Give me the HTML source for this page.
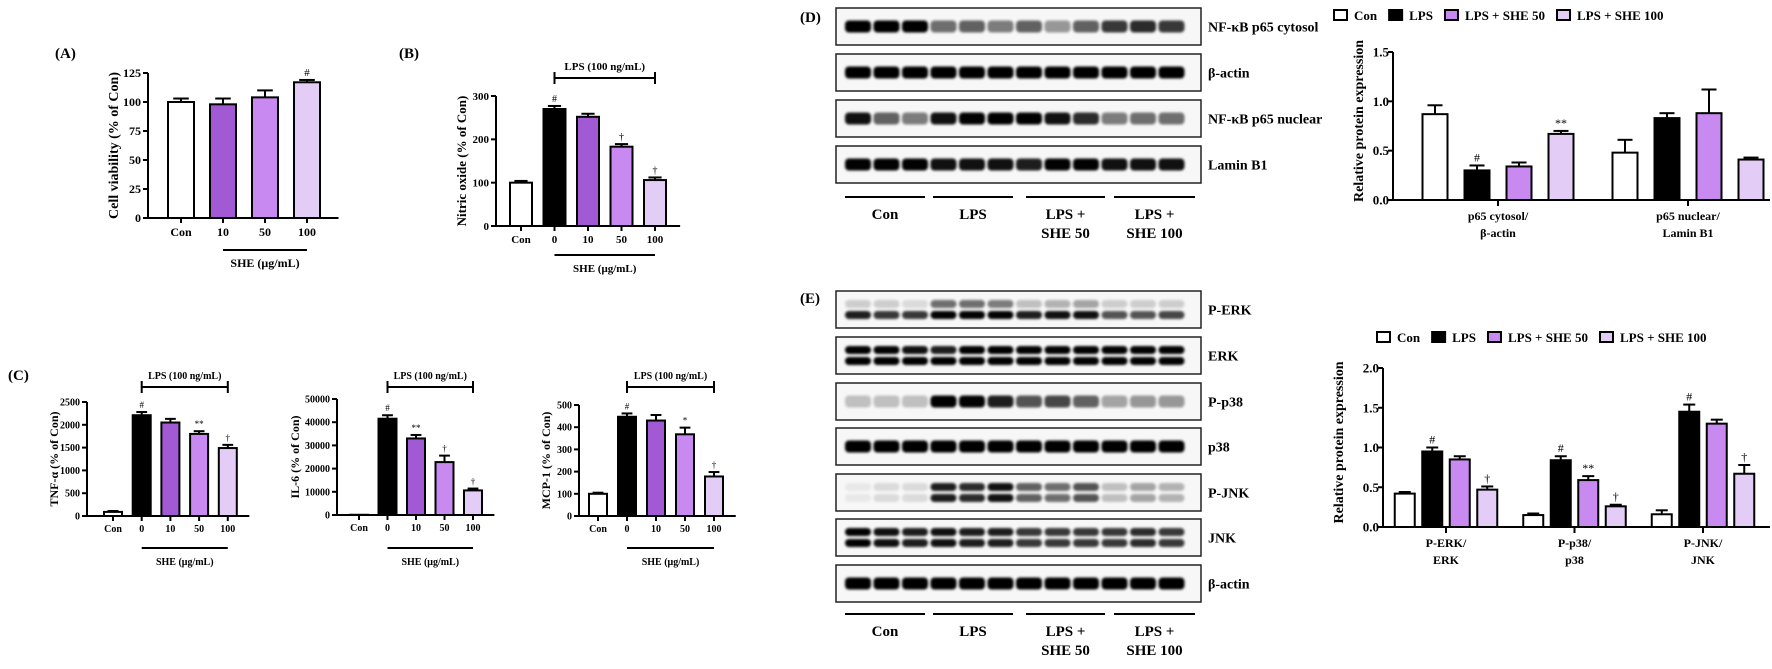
<!DOCTYPE html>
<html><head><meta charset="utf-8"><style>
html,body{margin:0;padding:0;background:#fff;}
svg{display:block;font-family:"Liberation Serif",serif;font-weight:bold;}
</style></head><body>
<svg id="fig" width="1772" height="669" viewBox="0 0 1772 669" xmlns="http://www.w3.org/2000/svg">
<defs><filter id="blur" x="-20%" y="-50%" width="140%" height="200%"><feGaussianBlur stdDeviation="1.3"/></filter></defs>
</svg>
<script>
// ---------- DATA ----------
const catsA = ['Con','10','50','100'];
const valsA = [100, 98, 104, 117];
const errA = [3, 5, 6, 2];
const sigA = ['', '', '', '#'];
const ticksA = [0,25,50,75,100,125];

const catsB = ['Con','0','10','50','100'];
const valsB = [100, 270, 252, 183, 106];
const errB = [4, 7, 7, 6, 6];
const sigB = ['', '#', '', '†', '†'];
const ticksB = [0,100,200,300];

const catsC = ['Con','0','10','50','100'];
const valsTNF = [90, 2210, 2050, 1800, 1490];
const errTNF = [20, 70, 80, 60, 70];
const sigTNF = ['', '#', '', '**', '†'];
const ticksTNF = [0,500,1000,1500,2000,2500];
const valsIL6 = [100, 41500, 33000, 22800, 10600];
const errIL6 = [0, 1500, 1500, 2800, 800];
const sigIL6 = ['', '#', '**', '†', '†'];
const ticksIL6 = [0,10000,20000,30000,40000,50000];
const valsMCP = [100, 447, 430, 368, 178];
const errMCP = [5, 15, 25, 30, 20];
const sigMCP = ['', '#', '', '*', '†'];
const ticksMCP = [0,100,200,300,400,500];

const legendNames = ['Con','LPS','LPS + SHE 50','LPS + SHE 100'];
const groupsD = [['p65 cytosol/','β-actin'],['p65 nuclear/','Lamin B1']];
const valsD = [[0.87,0.30,0.34,0.67],[0.48,0.83,0.88,0.41]];
const errD = [[0.09,0.05,0.04,0.03],[0.13,0.05,0.24,0.02]];
const sigD = [['','#','','**'],['','','','']];
const ticksD = [0,0.5,1.0,1.5];

const groupsE = [['P-ERK/','ERK'],['P-p38/','p38'],['P-JNK/','JNK']];
const valsE = [[0.42,0.95,0.85,0.47],[0.15,0.84,0.59,0.26],[0.16,1.45,1.30,0.67]];
const errE = [[0.02,0.05,0.04,0.04],[0.02,0.05,0.05,0.02],[0.05,0.09,0.05,0.11]];
const sigE = [['','#','','†'],['','#','**','†'],['','#','','†']];
const ticksE = [0,0.5,1.0,1.5,2.0];

// blot intensities (12 lanes)
const blotD = [
  {name:'NF-κB p65 cytosol', rows:[[1,1,.95,.5,.55,.45,.55,.35,.55,.7,.75,.7]]},
  {name:'β-actin', rows:[[.95,.95,.95,.95,.95,.95,.95,.95,.95,.92,.92,.92]]},
  {name:'NF-κB p65 nuclear', rows:[[.85,.55,.45,.85,.9,1,1,.85,.75,.45,.5,.5]]},
  {name:'Lamin B1', rows:[[.9,.9,.9,.85,.85,.85,.8,.9,.9,.85,.85,.85]]}
];
const blotE = [
  {name:'P-ERK', rows:[[.15,.15,.1,.5,.5,.45,.2,.25,.3,.15,.15,.15],[.8,.7,.7,.9,.9,.9,.8,.85,.85,.6,.6,.65]]},
  {name:'ERK', rows:[[.95,.9,.85,.8,.95,.95,.9,.9,.9,.9,.9,.9],[.95,.95,.95,.95,.95,.95,.9,.9,.9,.9,.9,.9]]},
  {name:'P-p38', rows:[[.2,.2,.2,.95,.9,.8,.6,.65,.55,.3,.35,.35]]},
  {name:'p38', rows:[[.95,.95,.95,.95,.95,.95,.95,.95,.95,.92,.92,.92]]},
  {name:'P-JNK', rows:[[.05,.1,.1,.8,.75,.85,.55,.5,.6,.2,.3,.25],[.05,.1,.1,.8,.75,.85,.55,.5,.6,.2,.3,.25]]},
  {name:'JNK', rows:[[.9,.85,.8,.85,.8,.8,.7,.7,.7,.7,.75,.7],[.9,.85,.8,.85,.8,.8,.7,.7,.7,.7,.75,.7]]},
  {name:'β-actin', rows:[[.95,.95,.95,.95,.95,.95,.95,.95,.95,.92,.92,.92]]}
];
const blotGroups = [['Con'],['LPS'],['LPS +','SHE 50'],['LPS +','SHE 100']];

// ---------- HELPERS ----------
const NS='http://www.w3.org/2000/svg';
const svg=document.getElementById('fig');
function mk(tag, attrs, parent){const e=document.createElementNS(NS,tag);for(const k in attrs)e.setAttribute(k,attrs[k]);(parent||svg).appendChild(e);return e;}
function txt(x,y,s,size,anchor,parent,extra){const t=mk('text',Object.assign({x:x,y:y,'font-size':size,'text-anchor':anchor||'middle'},extra||{}),parent);t.textContent=s;return t;}
const COL_A=['#ffffff','#a259d4','#c88af0','#e3cdf6'];
const COL5=['#ffffff','#000000','#a259d4','#c88af0','#e3cdf6'];
const COL4=['#ffffff','#000000','#c88af0','#e3cdf6'];

function yScale(y0,yTop,max){return v=>y0-(v/max)*(y0-yTop);}

function axisY(g,ax,y,ticks,fs,fmt,off){
  off=off||7;
  mk('line',{x1:ax,y1:y(ticks[0]),x2:ax,y2:y(ticks[ticks.length-1]),stroke:'#000','stroke-width':2},g);
  ticks.forEach(t=>{
    mk('line',{x1:ax-5,y1:y(t),x2:ax,y2:y(t),stroke:'#000','stroke-width':2},g);
    const l=txt(ax-off,y(t)+fs*0.35,fmt?fmt(t):String(t),fs,'end',g);
    
    
  });
}
function bar(g,cx,w,y,y0,v,e,col,sig,fs){
  const r=mk('rect',{x:cx-w/2,y:y(v),width:w,height:y0-y(v),fill:col,stroke:'#000','stroke-width':2},g);
  
  
  if(e>0){
    mk('line',{x1:cx,y1:y(v),x2:cx,y2:y(v+e),stroke:'#000','stroke-width':2},g);
    mk('line',{x1:cx-w*0.3,y1:y(v+e),x2:cx+w*0.3,y2:y(v+e),stroke:'#000','stroke-width':2},g);
  }
  if(sig){const s=txt(cx,y(v+e)-4,sig,fs,'middle',g,{'font-weight':'normal'});
    
    }
}
function ytitle(g,x,y,s,fs){const t=txt(0,0,s,fs,'middle',g,{transform:`translate(${x},${y}) rotate(-90)`});
  
  }

function simpleChart(o){
  const g=mk('g',{});
  
  
  const max=o.ticks[o.ticks.length-1];
  const y=yScale(o.y0,o.yTop,max);
  axisY(g,o.ax,y,o.ticks,o.fs);
  const n=o.cats.length;
  const xEnd=o.x0+(n-1)*o.step+o.step*0.75;
  mk('line',{x1:o.ax,y1:o.y0,x2:xEnd,y2:o.y0,stroke:'#000','stroke-width':2},g);
  o.cats.forEach((c,i)=>{
    const cx=o.x0+i*o.step;
    bar(g,cx,o.bw,y,o.y0,o.vals[i],o.errs[i],o.cols[i],o.sig[i],o.fs-1);
    mk('line',{x1:cx,y1:o.y0,x2:cx,y2:o.y0+5,stroke:'#000','stroke-width':2},g);
    const l=txt(cx,o.y0+o.fs+6,c,o.fs,'middle',g);
    
    
  });
  const s1=o.x0+o.step*(o.cats[0]==='Con'?1:0), s2=o.x0+(n-1)*o.step;
  mk('line',{x1:s1,y1:o.sheY,x2:s2,y2:o.sheY,stroke:'#000','stroke-width':2},g);
  const st=txt((s1+s2)/2,o.sheY+17,'SHE (μg/mL)',o.fs,'middle',g);
  
  
  if(o.lpsY){
    const b1=o.x0+o.step, b2=o.x0+(n-1)*o.step;
    mk('line',{x1:b1,y1:o.lpsY,x2:b2,y2:o.lpsY,stroke:'#000','stroke-width':2},g);
    mk('line',{x1:b1,y1:o.lpsY-6,x2:b1,y2:o.lpsY+6,stroke:'#000','stroke-width':2},g);
    mk('line',{x1:b2,y1:o.lpsY-6,x2:b2,y2:o.lpsY+6,stroke:'#000','stroke-width':2},g);
    const lt=txt((b1+b2)/2,o.lpsY-8,'LPS (100 ng/mL)',o.fs,'middle',g);
    
    
  }
  ytitle(g,o.tx,(o.y0+o.yTop)/2,o.title,o.tfs);
}

function groupedChart(o){
  const g=mk('g',{});
  
  
  const max=o.ticks[o.ticks.length-1];
  const y=yScale(o.y0,o.yTop,max);
  axisY(g,o.ax,y,o.ticks,o.tkfs,t=>t.toFixed(1),4);
  mk('line',{x1:o.ax,y1:o.y0,x2:o.xEnd,y2:o.y0,stroke:'#000','stroke-width':2},g);
  o.groups.forEach((gr,gi)=>{
    const gc=o.gc0+gi*o.gstep;
    mk('line',{x1:gc,y1:o.y0,x2:gc,y2:o.y0+6,stroke:'#000','stroke-width':2},g);
    gr.forEach((line,li)=>{const l=txt(gc,o.y0+o.fs+8+li*17,line,o.fs,'middle',g);
      
      });
    o.vals[gi].forEach((v,i)=>{
      bar(g,gc+(i-1.5)*o.step,o.bw,y,o.y0,v,o.errs[gi][i],COL4[i],o.sig[gi][i],o.fs);
    });
  });
  // legend
  let lx=o.legX;
  legendNames.forEach((nm,i)=>{
    const le=mk('g',{},g);
    
    
    mk('rect',{x:lx,y:o.legY-10,width:13,height:10,fill:COL4[i],stroke:'#000','stroke-width':2},le);
    const t=txt(lx+20,o.legY,nm,o.lfs,'start',le);
    lx+=20+t.getComputedTextLength()+12;
  });
  ytitle(g,o.tx,(o.y0+o.yTop)/2-5,'Relative protein expression',o.tfs);
}

function blot(o){
  const g=mk('g',{});
  
  
  o.data.forEach((row,ri)=>{
    const bx=836,bw=365,by=o.boxY[ri],bh=o.boxH;
    const box=mk('rect',{x:bx,y:by,width:bw,height:bh,fill:'#f7f7f7',stroke:'#222','stroke-width':1.5},g);
    
    
    const nr=row.rows.length;
    row.rows.forEach((lanes,k)=>{
      const cy=by+bh/2+(nr===1?0:(k-0.5)*11);
      lanes.forEach((inten,li)=>{
        const cx=858+li*28.5;
        mk('rect',{x:cx-13,y:cy-(nr===1?6:4),width:26,height:nr===1?12:8,rx:4,fill:'#000',opacity:Math.min(1,inten*1.1),filter:'url(#blur)'},g);
      });
    });
    const lb=txt(1208,by+bh/2+5,row.name,14,'start',g);
    
    
  });
  const lines=[[845,925],[933,1013],[1026,1105],[1114,1195]];
  blotGroups.forEach((gl,i)=>{
    mk('line',{x1:lines[i][0],y1:o.lineY,x2:lines[i][1],y2:o.lineY,stroke:'#000','stroke-width':2},g);
    gl.forEach((s,k)=>{const t=txt((lines[i][0]+lines[i][1])/2,o.lineY+22+k*19,s,15,'middle',g);
      
      });
  });
}

function panelLabel(x,y,s){const t=txt(x,y,s,15,'start');
  
  }

// ---------- DRAW ----------
panelLabel(55,58,'(A)');
simpleChart({name:'cell-viability-chart',cats:catsA,vals:valsA,errs:errA,sig:sigA,ticks:ticksA,cols:COL_A,
  ax:148,y0:218,yTop:73,x0:181,step:42,bw:26,fs:12,sheY:250,tx:118,title:'Cell viability (% of Con)',tfs:14});
panelLabel(399,58,'(B)');
simpleChart({name:'nitric-oxide-chart',cats:catsB,vals:valsB,errs:errB,sig:sigB,ticks:ticksB,cols:COL5,
  ax:496,y0:226,yTop:96,x0:521,step:33.5,bw:22,fs:11,sheY:255,lpsY:78,tx:466,title:'Nitric oxide (% of Con)',tfs:13});
panelLabel(8,380,'(C)');
simpleChart({name:'tnf-alpha-chart',cats:catsC,vals:valsTNF,errs:errTNF,sig:sigTNF,ticks:ticksTNF,cols:COL5,
  ax:87,y0:516,yTop:402,x0:113,step:28.7,bw:18,fs:10,sheY:548,lpsY:387,tx:58,title:'TNF-α (% of Con)',tfs:12});
simpleChart({name:'il6-chart',cats:catsC,vals:valsIL6,errs:errIL6,sig:sigIL6,ticks:ticksIL6,cols:COL5,
  ax:337,y0:515,yTop:399,x0:359,step:28.5,bw:18,fs:10,sheY:548,lpsY:387,tx:299,title:'IL-6 (% of Con)',tfs:12});
simpleChart({name:'mcp1-chart',cats:catsC,vals:valsMCP,errs:errMCP,sig:sigMCP,ticks:ticksMCP,cols:COL5,
  ax:579,y0:516,yTop:405,x0:598,step:29,bw:18,fs:10,sheY:548,lpsY:387,tx:550,title:'MCP-1 (% of Con)',tfs:12});

panelLabel(800,22,'(D)');
blot({name:'nfkb-western-blot',data:blotD,boxY:[8,54,100,146],boxH:37,lineY:197});
groupedChart({name:'nfkb-protein-chart',groups:groupsD,vals:valsD,errs:errD,sig:sigD,ticks:ticksD,
  ax:1393,y0:200,yTop:52,xEnd:1770,gc0:1498,gstep:190,step:42,bw:25,fs:12,tkfs:13,legX:1334,legY:20,lfs:13,tx:1363,tfs:14});

panelLabel(800,303,'(E)');
blot({name:'mapk-western-blot',data:blotE,boxY:[291,337,383,428,474,519,565],boxH:37,lineY:614});
groupedChart({name:'mapk-protein-chart',groups:groupsE,vals:valsE,errs:errE,sig:sigE,ticks:ticksE,
  ax:1383,y0:527,yTop:368,xEnd:1770,gc0:1446,gstep:128.5,step:27.5,bw:20,fs:12,tkfs:13,legX:1377,legY:342,lfs:13,tx:1343,tfs:14});
</script>
</body></html>
